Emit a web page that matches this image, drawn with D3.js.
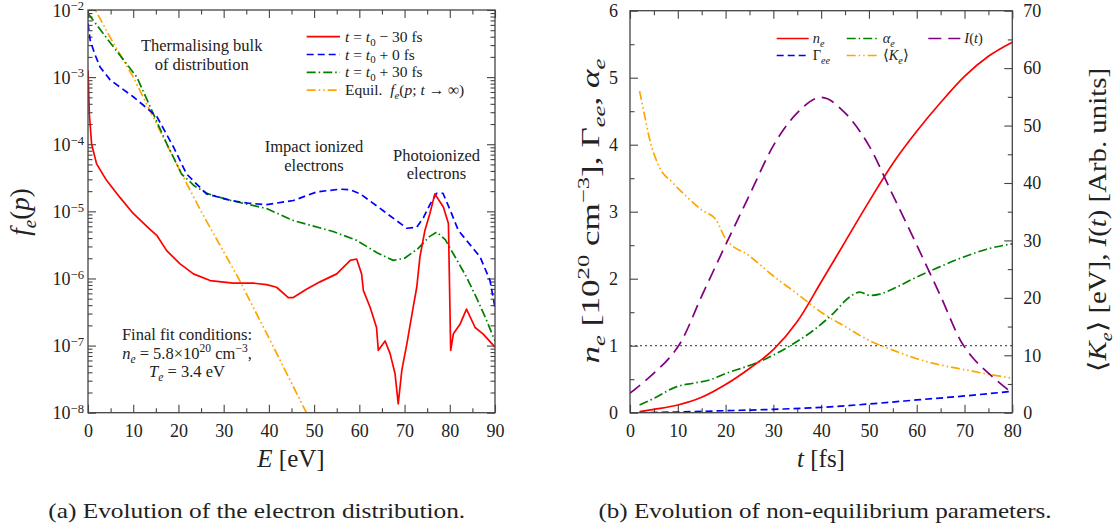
<!DOCTYPE html>
<html>
<head>
<meta charset="utf-8">
<script src="https://cdn.jsdelivr.net/npm/d3@7"></script>
<style>
  body { margin: 0; background: #fff; }
  text { font-family: "Liberation Serif", "Times New Roman", serif; fill: #222; white-space: pre; }
</style>
</head>
<body>
<svg width="1119" height="527"></svg>
<script>
// ---------- panel (a): electron distribution ----------
var eRed = [0, 0.3, 0.8, 1.9, 4.1, 7.1, 10, 13.7, 15.2, 17.4, 20.3, 23.3, 27, 32.1, 36.6, 39.5, 41.7, 44.3, 45.4,
  48.3, 51.3, 55, 58, 59.4, 60.5, 60.9, 62.4, 63.8, 64.2, 65.7, 66.8, 67.9, 68.6, 69.4, 70.5, 71.9, 72.7, 73.4,
  74.5, 75.6, 76.7, 78.6, 79.7, 80.2, 80.8, 82.3, 83.7, 85.6, 87.4, 90];
var fRed = [1.26e-3, 2.8e-4, 1.0e-4, 5.1e-5, 2.9e-5, 1.6e-5, 9.3e-6, 5.4e-6, 4.4e-6, 2.6e-6, 1.66e-6, 1.17e-6, 9.3e-7,
  8.5e-7, 8.5e-7, 8.1e-7, 7.4e-7, 5.2e-7, 5.2e-7, 6.9e-7, 8.9e-7, 1.17e-6, 1.86e-6, 1.95e-6, 1.17e-6, 6.6e-7,
  3.7e-7, 1.86e-7, 8.5e-8, 1.17e-7, 7.6e-8, 3.8e-8, 1.35e-8, 4.3e-8, 1.05e-7, 3.7e-7, 7.4e-7, 2.1e-6, 5.2e-6,
  9.3e-6, 1.82e-5, 1.15e-5, 6.6e-6, 8.5e-8, 1.5e-7, 2.1e-7, 3.5e-7, 1.86e-7, 1.48e-7, 9.5e-8];

var eBlue = [0, 0.5, 1.5, 2.7, 4.9, 10, 15.2, 18.9, 21.8, 26.2, 31.6, 35.5, 39.5, 45.4, 50.6, 55.7, 58, 60.2, 65.3,
  70.5, 72.7, 74.2, 75.6, 77.1, 78.5, 80.2, 81.9, 83.7, 86.7, 88.9, 90];
var fBlue = [6.3e-3, 3.5e-3, 2.2e-3, 1.4e-3, 9.1e-4, 5.1e-4, 2.6e-4, 9.1e-5, 3.6e-5, 1.82e-5, 1.45e-5, 1.32e-5, 1.26e-5,
  1.45e-5, 1.95e-5, 2.14e-5, 2.1e-5, 1.82e-5, 1.02e-5, 5.6e-6, 5.8e-6, 8.1e-6, 1.26e-5, 1.86e-5, 1.86e-5, 1.0e-5,
  5.2e-6, 3.7e-6, 2.1e-6, 9.3e-7, 3.7e-7];

var eGreen = [0, 5, 10.8, 14.1, 17.4, 20.7, 23.5, 26.6, 31.6, 39.5, 45.4, 54.2, 59.4, 64, 67.5, 70, 73, 75.5, 77.1,
  79, 81, 83.7, 86, 88, 90];
var fGreen = [8.9e-3, 3.2e-3, 1.0e-3, 3.2e-4, 1.02e-4, 3.6e-5, 2.4e-5, 1.82e-5, 1.45e-5, 1.1e-5, 7.3e-6, 5.0e-6, 3.7e-6,
  2.4e-6, 1.86e-6, 2.0e-6, 2.8e-6, 4.2e-6, 4.9e-6, 3.8e-6, 2.2e-6, 1.05e-6, 5.0e-7, 2.5e-7, 1.17e-7];

var eEquil = [0, 5, 10, 20, 25, 33.3, 40, 48.3, 50];
var fEquil = [1.6e-2, 3.8e-3, 1.0e-3, 4.5e-5, 1.0e-5, 1.0e-6, 1.3e-7, 1.0e-8, 6.0e-9];

var eTicks = [0, 10, 20, 30, 40, 50, 60, 70, 80, 90];
var fExponents = [-2, -3, -4, -5, -6, -7, -8];

// ---------- panel (b): non-equilibrium parameters ----------
var tNe = [2, 5, 10, 15, 20, 25, 30, 35, 40, 45, 50, 55, 60, 65, 70, 75, 80];
var ne = [0.015, 0.05, 0.115, 0.23, 0.42, 0.66, 0.94, 1.36, 1.95, 2.55, 3.15, 3.72, 4.2, 4.63, 5.02, 5.32, 5.53];

var tAlpha = [2, 4.9, 9.8, 13.2, 16.7, 20.2, 24.4, 28.6, 34.2, 38.4, 42.5, 46, 48.1, 50.2, 52.3, 55.1, 59.3, 64.9, 69.7, 74.6, 80];
var alphaE = [0.115, 0.21, 0.39, 0.44, 0.49, 0.59, 0.69, 0.81, 1.03, 1.23, 1.48, 1.73, 1.80, 1.75, 1.77, 1.85, 2.0, 2.18, 2.32, 2.44, 2.52];

var tGamma = [2, 10, 20, 30, 40, 50, 60, 70, 80];
var gammaEE = [0.0, 0.01, 0.03, 0.05, 0.08, 0.13, 0.19, 0.25, 0.32];

var tK = [2, 3, 4, 6, 9, 12, 15, 18, 20, 25, 30, 35, 40, 45, 50, 55, 60, 65, 70, 75, 80];
var kineticE = [56, 52, 48, 43, 40, 37.5, 35.3, 33.6, 30.3, 27.3, 23.8, 20.7, 17.5, 15, 12.6, 10.9, 9.4, 8.3, 7.5, 6.7, 6.0];

var tPulse = [0, 5, 8.4, 10.5, 15, 20, 25, 30, 35, 40, 45, 50, 55, 60, 65, 69.5, 71.6, 75, 80];
var pulseI = [3.4, 6.9, 9.7, 12.1, 20.3, 29.2, 37.9, 46.5, 52.2, 54.9, 52.2, 46.5, 37.9, 29.2, 20.3, 12.1, 9.7, 6.9, 3.4];

var unityLevel = 1;
var tTicks = [0, 10, 20, 30, 40, 50, 60, 70, 80];
var leftTicks = [0, 1, 2, 3, 4, 5, 6];
var rightTicks = [0, 10, 20, 30, 40, 50, 60, 70];

var svg = d3.select('svg');
var frameColor = '#444';

// text with italic / sub / sup pieces
function richText(g, x, y, parts, size, anchor, rotate, supRaise) {
  var t = g.append('text').attr('x', x).attr('y', y)
    .attr('font-size', size).attr('text-anchor', anchor || 'start');
  if (rotate) t.attr('transform', 'rotate(' + rotate + ',' + x + ',' + y + ')');
  var shift = 0;
  parts.forEach(function (p) {
    var kind = p[1] || '';
    var s = t.append('tspan').text(p[0]);
    var target = 0;
    if (kind.indexOf('sub') >= 0) target = size * 0.25;
    if (kind.indexOf('sup') >= 0) target = -size * (supRaise || 0.4);
    if (target !== shift) { s.attr('dy', target - shift); shift = target; }
    if (target !== 0) s.attr('font-size', size * 0.7);
    if (kind.charAt(0) === 'i') s.attr('font-style', 'italic');
  });
  return t;
}

function styleAxis(g) {
  g.select('.domain').remove();
  g.selectAll('.tick line').attr('stroke', frameColor).attr('stroke-width', 1.1);
  g.selectAll('.tick text').attr('font-size', 18).attr('fill', '#222')
    .attr('font-family', '"Liberation Serif", serif');
}

// ================= panel (a) =================
var A = { x0: 88, x1: 495, y0: 10, y1: 412.7 };
var xA = d3.scaleLinear().domain([0, 90]).range([A.x0, A.x1]);
var yA = d3.scaleLog().domain([1e-8, 1e-2]).range([A.y1, A.y0]);

var eMinor = d3.range(5, 90, 10);
var fMajor = fExponents.map(function (d) { return Math.pow(10, d); });
var fMinor = [];
fExponents.slice(0, -1).forEach(function (d) {
  for (var k = 2; k <= 9; k++) fMinor.push(k * Math.pow(10, d - 1));
});

var gA = svg.append('g');
gA.append('g').attr('transform', 'translate(0,' + A.y1 + ')')
  .call(d3.axisBottom(xA).tickValues(eTicks).tickSize(-8).tickPadding(12).tickFormat(d3.format('d'))).call(styleAxis);
gA.append('g').attr('transform', 'translate(0,' + A.y1 + ')')
  .call(d3.axisBottom(xA).tickValues(eMinor).tickSize(-4.5).tickFormat('')).call(styleAxis);
gA.append('g').attr('transform', 'translate(0,' + A.y0 + ')')
  .call(d3.axisTop(xA).tickValues(eTicks).tickSize(-8).tickFormat('')).call(styleAxis);
gA.append('g').attr('transform', 'translate(0,' + A.y0 + ')')
  .call(d3.axisTop(xA).tickValues(eMinor).tickSize(-4.5).tickFormat('')).call(styleAxis);
[[A.x0, d3.axisLeft], [A.x1, d3.axisRight]].forEach(function (s) {
  gA.append('g').attr('transform', 'translate(' + s[0] + ',0)')
    .call(s[1](yA).tickValues(fMajor).tickSize(-8).tickFormat('')).call(styleAxis);
  gA.append('g').attr('transform', 'translate(' + s[0] + ',0)')
    .call(s[1](yA).tickValues(fMinor).tickSize(-4.5).tickFormat('')).call(styleAxis);
});
fExponents.forEach(function (d) {
  richText(gA, 84, yA(Math.pow(10, d)) + 6.5, [['10'], ['\u2212' + (-d), 'sup']], 18, 'end', null, 0.34);
});

gA.append('clipPath').attr('id', 'clipA').append('rect')
  .attr('x', A.x0).attr('y', A.y0).attr('width', A.x1 - A.x0).attr('height', A.y1 - A.y0);

var seriesA = [
  { e: eEquil, f: fEquil, color: '#ffa500', dash: '9,3,1.5,3,1.5,3' },
  { e: eGreen, f: fGreen, color: '#008000', dash: '9,3,1.5,3' },
  { e: eBlue, f: fBlue, color: '#0000ff', dash: '7,4' },
  { e: eRed, f: fRed, color: '#ff0000', dash: null }
];
var lineA = d3.line().x(function (d) { return xA(d[0]); }).y(function (d) { return yA(d[1]); });
var plotA = gA.append('g').attr('clip-path', 'url(#clipA)');
seriesA.forEach(function (s) {
  plotA.append('path').datum(d3.zip(s.e, s.f)).attr('d', lineA)
    .attr('fill', 'none').attr('stroke', s.color).attr('stroke-width', 1.7)
    .attr('stroke-dasharray', s.dash).attr('stroke-linejoin', 'round');
});
gA.append('rect').attr('x', A.x0).attr('y', A.y0).attr('width', A.x1 - A.x0).attr('height', A.y1 - A.y0)
  .attr('fill', 'none').attr('stroke', frameColor).attr('stroke-width', 1.3);

// legend (a)
var legendA = [
  { color: '#ff0000', dash: null, parts: [['t', 'i'], [' = '], ['t', 'i'], ['0', 'sub'], [' \u2212 30 fs']] },
  { color: '#0000ff', dash: '7,4', parts: [['t', 'i'], [' = '], ['t', 'i'], ['0', 'sub'], [' + 0 fs']] },
  { color: '#008000', dash: '9,3,1.5,3', parts: [['t', 'i'], [' = '], ['t', 'i'], ['0', 'sub'], [' + 30 fs']] },
  { color: '#ffa500', dash: '9,3,1.5,3,1.5,3', parts: [['Equil.  '], ['f', 'i'], ['e', 'isub'], ['('], ['p', 'i'], ['; '], ['t', 'i'], [' \u2192 \u221E)']] }
];
legendA.forEach(function (d, i) {
  var y = 36.7 + i * 17.8;
  gA.append('line').attr('x1', 306.7).attr('x2', 340).attr('y1', y).attr('y2', y)
    .attr('stroke', d.color).attr('stroke-width', 1.7).attr('stroke-dasharray', d.dash);
  richText(gA, 345, y + 5, d.parts, 15.5, 'start');
});

// annotations (a)
[['Thermalising bulk', 201.7, 50.5], ['of distribution', 201.7, 69.5],
 ['Impact ionized', 314, 152], ['electrons', 314, 171],
 ['Photoionized', 436.5, 160.5], ['electrons', 436.5, 179],
 ['Final fit conditions:', 187, 340]].forEach(function (d) {
  gA.append('text').attr('x', d[1]).attr('y', d[2]).attr('text-anchor', 'middle')
    .attr('font-size', 16.5).attr('fill', '#333').text(d[0]);
});
richText(gA, 187, 358.5, [['n', 'i'], ['e', 'isub'], [' = 5.8\u00D710'], ['20', 'sup'], [' cm'], ['\u22123', 'sup'], [',']], 16.5, 'middle')
  .attr('fill', '#333');
richText(gA, 187, 377, [['T', 'i'], ['e', 'isub'], [' = 3.4 eV']], 16.5, 'middle').attr('fill', '#333');

richText(gA, 29, 212, [['f', 'i'], ['e', 'isub'], ['('], ['p', 'i'], [')']], 27, 'middle', -90);
richText(gA, 291, 467, [['E', 'i'], [' [eV]']], 25, 'middle');
gA.append('text').attr('x', 256.7).attr('y', 518).attr('text-anchor', 'middle').attr('font-size', 21)
  .attr('textLength', 417).attr('lengthAdjust', 'spacingAndGlyphs')
  .text('(a) Evolution of the electron distribution.');

// ================= panel (b) =================
var B = { x0: 630, x1: 1012.3, y0: 10.7, y1: 412.7 };
var xB = d3.scaleLinear().domain([0, 80]).range([B.x0, B.x1]);
var yL = d3.scaleLinear().domain([0, 6]).range([B.y1, B.y0]);
var yR = d3.scaleLinear().domain([0, 70]).range([B.y1, B.y0]);

var gB = svg.append('g');
var tMinor = d3.range(5, 80, 10);
var lMinor = d3.range(0.5, 6, 1);
var rMinor = d3.range(5, 70, 10);
var intFmt = d3.format('d');

gB.append('g').attr('transform', 'translate(0,' + B.y1 + ')')
  .call(d3.axisBottom(xB).tickValues(tTicks).tickSize(-8).tickPadding(12).tickFormat(intFmt)).call(styleAxis);
gB.append('g').attr('transform', 'translate(0,' + B.y1 + ')')
  .call(d3.axisBottom(xB).tickValues(tMinor).tickSize(-4.5).tickFormat('')).call(styleAxis);
gB.append('g').attr('transform', 'translate(0,' + B.y0 + ')')
  .call(d3.axisTop(xB).tickValues(tTicks).tickSize(-8).tickFormat('')).call(styleAxis);
gB.append('g').attr('transform', 'translate(0,' + B.y0 + ')')
  .call(d3.axisTop(xB).tickValues(tMinor).tickSize(-4.5).tickFormat('')).call(styleAxis);
gB.append('g').attr('transform', 'translate(' + B.x0 + ',0)')
  .call(d3.axisLeft(yL).tickValues(leftTicks).tickSize(-8).tickPadding(12).tickFormat(intFmt)).call(styleAxis);
gB.append('g').attr('transform', 'translate(' + B.x0 + ',0)')
  .call(d3.axisLeft(yL).tickValues(lMinor).tickSize(-4.5).tickFormat('')).call(styleAxis);
gB.append('g').attr('transform', 'translate(' + B.x1 + ',0)')
  .call(d3.axisRight(yR).tickValues(rightTicks).tickSize(-8).tickPadding(11).tickFormat(intFmt)).call(styleAxis);
gB.append('g').attr('transform', 'translate(' + B.x1 + ',0)')
  .call(d3.axisRight(yR).tickValues(rMinor).tickSize(-4.5).tickFormat('')).call(styleAxis);

gB.append('clipPath').attr('id', 'clipB').append('rect')
  .attr('x', B.x0).attr('y', B.y0).attr('width', B.x1 - B.x0).attr('height', B.y1 - B.y0);
var plotB = gB.append('g').attr('clip-path', 'url(#clipB)');

plotB.append('line').attr('x1', xB(0)).attr('x2', xB(80)).attr('y1', yL(unityLevel)).attr('y2', yL(unityLevel))
  .attr('stroke', '#555').attr('stroke-width', 1.3).attr('stroke-dasharray', '2,3');

var seriesB = [
  { t: tK, v: kineticE, y: yR, color: '#ffa500', dash: '9,3,1.5,3,1.5,3' },
  { t: tAlpha, v: alphaE, y: yL, color: '#008000', dash: '9,3,1.5,3' },
  { t: tGamma, v: gammaEE, y: yL, color: '#0000ff', dash: '7,4' },
  { t: tNe, v: ne, y: yL, color: '#ff0000', dash: null },
  { t: tPulse, v: pulseI, y: yR, color: '#800080', dash: '13,7' }
];
seriesB.forEach(function (s) {
  var ln = d3.line().curve(d3.curveMonotoneX)
    .x(function (d) { return xB(d[0]); }).y(function (d) { return s.y(d[1]); });
  plotB.append('path').datum(d3.zip(s.t, s.v)).attr('d', ln)
    .attr('fill', 'none').attr('stroke', s.color).attr('stroke-width', 1.7)
    .attr('stroke-dasharray', s.dash);
});
gB.append('rect').attr('x', B.x0).attr('y', B.y0).attr('width', B.x1 - B.x0).attr('height', B.y1 - B.y0)
  .attr('fill', 'none').attr('stroke', frameColor).attr('stroke-width', 1.3);

// legend (b)
var legendB = [
  { x: 776.7, y: 38.5, color: '#ff0000', dash: null, parts: [['n', 'i'], ['e', 'isub']] },
  { x: 846.7, y: 38.5, color: '#008000', dash: '9,3,1.5,3', parts: [['\u03B1', 'i'], ['e', 'isub']] },
  { x: 928.3, y: 38.5, color: '#800080', dash: '13,7', parts: [['I', 'i'], ['('], ['t', 'i'], [')']] },
  { x: 776.7, y: 55.5, color: '#0000ff', dash: '7,4', parts: [['\u0393'], ['ee', 'isub']] },
  { x: 846.7, y: 55.5, color: '#ffa500', dash: '9,3,1.5,3,1.5,3', parts: [['\u27E8'], ['K', 'i'], ['e', 'isub'], ['\u27E9']] }
];
legendB.forEach(function (d) {
  gB.append('line').attr('x1', d.x).attr('x2', d.x + 32).attr('y1', d.y).attr('y2', d.y)
    .attr('stroke', d.color).attr('stroke-width', 1.7).attr('stroke-dasharray', d.dash);
  richText(gB, d.x + 36, d.y + 4.5, d.parts, 14.5, 'start');
});

richText(gB, 599, 211, [['n', 'i'], ['e', 'isub'], [' [10'], ['20', 'sup'], [' cm'], ['\u22123', 'sup'],
  ['], \u0393'], ['ee', 'isub'], [', '], ['\u03B1', 'i'], ['e', 'isub']], 25, 'middle', -90)
  .attr('textLength', 305).attr('lengthAdjust', 'spacingAndGlyphs');
richText(gB, 1106, 220, [['\u27E8'], ['K', 'i'], ['e', 'isub'], ['\u27E9 [eV], '], ['I', 'i'], ['('], ['t', 'i'],
  [') [Arb. units]']], 25, 'middle', -90)
  .attr('textLength', 304).attr('lengthAdjust', 'spacingAndGlyphs');
richText(gB, 821, 467, [['t', 'i'], [' [fs]']], 25, 'middle');
gB.append('text').attr('x', 825).attr('y', 518).attr('text-anchor', 'middle').attr('font-size', 21)
  .attr('textLength', 453).attr('lengthAdjust', 'spacingAndGlyphs')
  .text('(b) Evolution of non-equilibrium parameters.');
</script>
</body>
</html>
